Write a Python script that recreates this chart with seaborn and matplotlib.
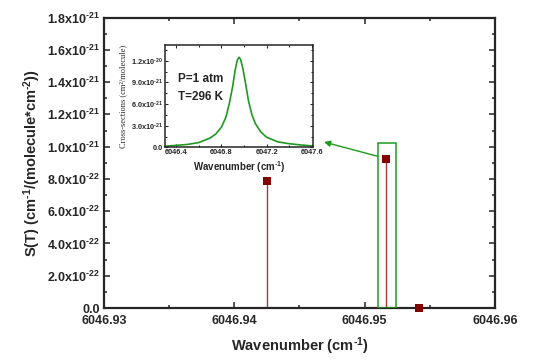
import numpy as np
import matplotlib
matplotlib.use("Agg")
import matplotlib.pyplot as plt
import matplotlib.ticker as mticker
from matplotlib.patches import Rectangle
import seaborn as sns

sns.set_style("ticks")
plt.rcParams['font.family'] = ['Liberation Sans', 'DejaVu Sans']
plt.rcParams['mathtext.fontset'] = 'custom'
plt.rcParams['mathtext.rm'] = 'Liberation Sans:bold'
plt.rcParams['mathtext.bf'] = 'Liberation Sans:bold'
plt.rcParams['mathtext.default'] = 'bf'

# line positions (cm-1) and intensities S(T)
line_pos = [6046.94254, 6046.95166, 6046.95414]
line_int = [7.85e-22, 9.25e-22, 0.0]

# cross-section profile (cm-1, cm2/molecule)
cs_x = [6046.30, 6046.40, 6046.50, 6046.60, 6046.70, 6046.75, 6046.80, 6046.84,
        6046.87, 6046.90, 6046.92, 6046.94, 6046.956, 6046.97, 6046.99, 6047.01,
        6047.04, 6047.07, 6047.10, 6047.15, 6047.20, 6047.30, 6047.40, 6047.50, 6047.60]
cs_y = [0.15e-21, 0.27e-21, 0.40e-21, 0.66e-21, 1.30e-21, 1.85e-21, 2.80e-21, 4.20e-21,
        6.10e-21, 8.50e-21, 10.6e-21, 12.1e-21, 12.5e-21, 12.2e-21, 10.9e-21, 9.2e-21,
        6.4e-21, 4.5e-21, 3.3e-21, 2.1e-21, 1.40e-21, 0.75e-21, 0.50e-21, 0.33e-21, 0.20e-21]

main_xticks = [6046.93, 6046.94, 6046.95, 6046.96]
main_yticks = [0, 2e-22, 4e-22, 6e-22, 8e-22, 1e-21, 1.2e-21, 1.4e-21, 1.6e-21, 1.8e-21]
inset_xticks = [6046.4, 6046.8, 6047.2, 6047.6]
inset_yticks = [0, 3e-21, 6e-21, 9e-21, 1.2e-20]

stem_col = '#a83a3a'
mark_col = '#850000'
green = '#1f991f'


def sci_fmt(v, pos):
    if v == 0:
        return '0.0'
    e = int(np.floor(np.log10(abs(v)) + 1e-9))
    m = v / 10**e
    return r'%.1fx10$^{\text{%d}}$' % (m, e)


def style_axes(ax, lw, maj, mino, size):
    for s in ax.spines.values():
        s.set_linewidth(lw)
    ax.tick_params(which='both', direction='in', top=True, right=True,
                   labeltop=False, labelright=False, width=lw * 0.7)
    ax.tick_params(which='major', length=maj, labelsize=size)
    ax.tick_params(which='minor', length=mino)
    for lab in ax.get_xticklabels() + ax.get_yticklabels():
        lab.set_fontweight('bold')


fig = plt.figure(figsize=(5.36, 3.6), dpi=100)
ax = fig.add_axes([0.194, 0.1444, 0.7295, 0.8068])

ax.vlines(line_pos, 0, line_int, color=stem_col, lw=1.0, zorder=2)
sns.scatterplot(x=line_pos, y=line_int, ax=ax, marker='s', s=28, color=mark_col,
                edgecolor=mark_col, linewidth=0, zorder=4, clip_on=False)

ax.add_patch(Rectangle((6046.9510, 0), 0.0014, 1.02e-21, fill=False,
                       edgecolor=green, lw=1.1, zorder=3))

ax.set_xlim(6046.93, 6046.96)
ax.set_ylim(0, 1.8e-21)
ax.set_xticks(main_xticks)
ax.set_yticks(main_yticks)
ax.xaxis.set_minor_locator(mticker.MultipleLocator(0.005))
ax.yaxis.set_minor_locator(mticker.MultipleLocator(1e-22))
ax.xaxis.set_major_formatter(mticker.FuncFormatter(lambda v, p: '%.2f' % v))
ax.yaxis.set_major_formatter(mticker.FuncFormatter(sci_fmt))
style_axes(ax, 1.6, 4, 2.2, 9)
ax.tick_params(axis='x', pad=5)
ax.tick_params(axis='y', pad=3)
ax.set_xlabel(r'Wavenumber (cm$^{\text{-1}}$)', fontsize=10.5, fontweight='bold', labelpad=6)
ax.set_ylabel(r'S(T) (cm$^{\text{-1}}$/(molecule*cm$^{\text{-2}}$))', fontsize=10.5,
              fontweight='bold', labelpad=3)

# arrow from zoom box to inset
ax.annotate('', xy=(0.6045, 0.6056), xycoords='figure fraction',
            xytext=(6046.9510, 0.94e-21), textcoords='data',
            arrowprops=dict(arrowstyle='-|>', color=green, lw=1.0,
                            mutation_scale=9, shrinkA=0, shrinkB=0))

# inset
ins = fig.add_axes([0.3078, 0.5908, 0.276, 0.2842])
sns.lineplot(x=cs_x, y=cs_y, ax=ins, color=green, lw=1.2)
ins.set_xlim(6046.30, 6047.61)
ins.set_ylim(0, 1.42e-20)
ins.set_xticks(inset_xticks)
ins.set_yticks(inset_yticks)
ins.xaxis.set_minor_locator(mticker.MultipleLocator(0.2))
ins.yaxis.set_minor_locator(mticker.MultipleLocator(1.5e-21))
ins.xaxis.set_major_formatter(mticker.FuncFormatter(lambda v, p: '%.1f' % v))
ins.yaxis.set_major_formatter(mticker.FuncFormatter(sci_fmt))
style_axes(ins, 1.1, 2.2, 1.2, 5.3)
ins.tick_params(axis='both', pad=1.5)
ins.set_xlabel(r'Wavenumber (cm$^{\text{-1}}$)', fontsize=7, fontweight='bold', labelpad=2)
ins.set_ylabel('Cross-sections (cm²/molecule)', fontsize=6,
               family=['Liberation Serif', 'DejaVu Serif'], fontweight='normal', labelpad=3)
ins.text(0.09, 0.73, 'P=1 atm\nT=296 K', transform=ins.transAxes, fontsize=8.5,
         fontweight='bold', va='top', ha='left', linespacing=1.7)

fig.savefig('out.png', dpi=100)
